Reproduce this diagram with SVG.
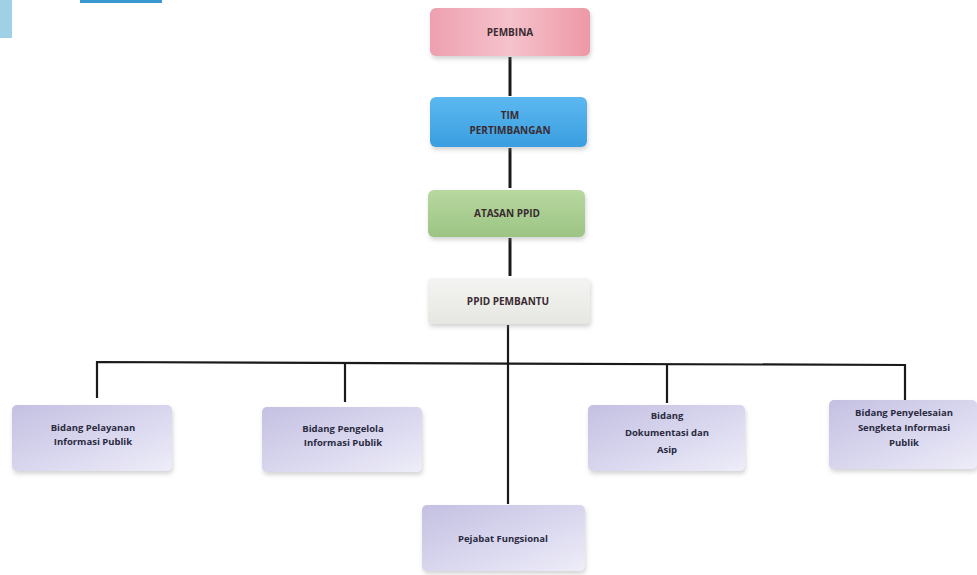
<svg xmlns="http://www.w3.org/2000/svg" width="977" height="575" viewBox="0 0 977 575">
<defs>
<linearGradient id="gPink" x1="0" y1="0" x2="1" y2="0"><stop offset="0" stop-color="#eea0b0"/><stop offset="0.5" stop-color="#f5c2cc"/><stop offset="1" stop-color="#ee98a6"/></linearGradient>
<linearGradient id="gBlue" x1="0" y1="0" x2="0" y2="1"><stop offset="0" stop-color="#5cb8f0"/><stop offset="1" stop-color="#3a9ee0"/></linearGradient>
<linearGradient id="gGreen" x1="0" y1="0" x2="0" y2="1"><stop offset="0" stop-color="#b8d8a0"/><stop offset="1" stop-color="#9cc484"/></linearGradient>
<linearGradient id="gGrey" x1="0" y1="0" x2="0" y2="1"><stop offset="0" stop-color="#f4f4f2"/><stop offset="1" stop-color="#e6e6e2"/></linearGradient>
<linearGradient id="gLav" x1="0" y1="0" x2="1" y2="1"><stop offset="0" stop-color="#c4c0e2"/><stop offset="0.6" stop-color="#dcdaf0"/><stop offset="1" stop-color="#eeedf8"/></linearGradient>
<filter id="sh" x="-10%" y="-10%" width="130%" height="140%"><feDropShadow dx="1" dy="3" stdDeviation="2" flood-color="#888" flood-opacity="0.35"/></filter>
</defs>
<style>
.t{font-family:"Open Sans","Liberation Sans",sans-serif;font-weight:bold;font-size:9.5px;fill:#2a2a40;text-anchor:middle}
.tc{font-family:"Open Sans","Liberation Sans",sans-serif;font-weight:bold;font-size:10px;fill:#3a2a30;text-anchor:middle}
.ln{stroke:#1a1a1a;stroke-width:3;fill:none}
.ln2{stroke:#1a1a1a;stroke-width:2.2;fill:none}
</style>
<rect width="977" height="575" fill="#ffffff"/>
<rect x="0" y="0" width="12" height="38" fill="#9fd0e6"/>
<rect x="80" y="0" width="82" height="3" fill="#3a98d0"/>
<g id="connectors">
<line class="ln" x1="510" y1="57" x2="510" y2="96"/>
<line class="ln" x1="510" y1="148" x2="510" y2="188"/>
<line class="ln" x1="510" y1="238" x2="510" y2="276"/>
<line class="ln2" x1="508" y1="325" x2="508" y2="504"/>
<polyline class="ln2" points="97,398 97,362 905,365 905,400"/>
<line class="ln2" x1="345" y1="362" x2="345" y2="402"/>
<line class="ln2" x1="667" y1="364" x2="667" y2="403"/>
</g>
<g id="pembina"><rect x="430" y="8" width="160" height="48" rx="6" fill="url(#gPink)" filter="url(#sh)"/><text class="tc" x="510" y="36">PEMBINA</text></g>
<g id="tim"><rect x="430" y="97" width="157" height="50" rx="6" fill="url(#gBlue)" filter="url(#sh)"/><text class="tc" x="510" y="119">TIM</text><text class="tc" x="510" y="134">PERTIMBANGAN</text></g>
<g id="atasan"><rect x="428" y="190" width="157" height="47" rx="6" fill="url(#gGreen)" filter="url(#sh)"/><text class="tc" x="507" y="217">ATASAN PPID</text></g>
<g id="pembantu"><rect x="428" y="278" width="162" height="46" rx="4" fill="url(#gGrey)" filter="url(#sh)"/><text class="tc" x="508" y="305">PPID PEMBANTU</text></g>
<g id="pelayanan"><rect x="12" y="405" width="160" height="66" rx="5" fill="url(#gLav)" filter="url(#sh)"/><text class="t" x="93" y="431">Bidang Pelayanan</text><text class="t" x="93" y="445">Informasi Publik</text></g>
<g id="pengelola"><rect x="262" y="407" width="160" height="65" rx="5" fill="url(#gLav)" filter="url(#sh)"/><text class="t" x="343" y="432">Bidang Pengelola</text><text class="t" x="343" y="446">Informasi Publik</text></g>
<g id="dokumentasi"><rect x="588" y="405" width="157" height="66" rx="5" fill="url(#gLav)" filter="url(#sh)"/><text class="t" x="667" y="419">Bidang</text><text class="t" x="667" y="436">Dokumentasi dan</text><text class="t" x="667" y="453">Asip</text></g>
<g id="sengketa"><rect x="829" y="400" width="148" height="69" rx="5" fill="url(#gLav)" filter="url(#sh)"/><text class="t" x="904" y="416">Bidang Penyelesaian</text><text class="t" x="904" y="431">Sengketa Informasi</text><text class="t" x="904" y="446">Publik</text></g>
<g id="pejabat"><rect x="422" y="505" width="163" height="66" rx="5" fill="url(#gLav)" filter="url(#sh)"/><text class="t" x="503" y="542">Pejabat Fungsional</text></g>
</svg>
